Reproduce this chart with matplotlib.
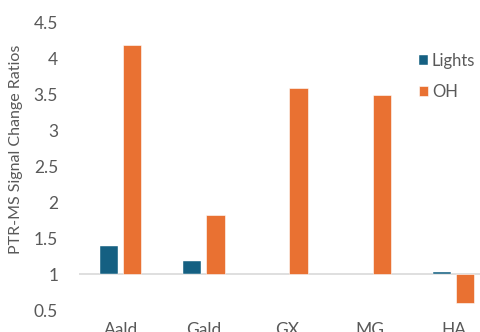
import numpy as np
import matplotlib.pyplot as plt

plt.rcParams['font.family'] = ['Lato', 'DejaVu Sans']

categories = ['Aald', 'Gald', 'GX', 'MG', 'HA']
lights = [1.40, 1.19, np.nan, np.nan, 1.03]
oh = [4.19, 1.83, 3.59, 3.49, 0.60]
base = 1.0

blue = '#156082'
orange = '#E97132'
grey_text = '#595959'

fig = plt.figure(figsize=(4.8, 3.32), dpi=100)
# plot area runs a little past the right edge of the figure
ax = fig.add_axes([79 / 480, 0.065, 416 / 480, 0.867])

x = np.arange(len(categories))
w = 0.22
gap = 0.06
lv = np.array(lights) - base
ov = np.array(oh) - base
b1 = ax.bar(x - (w + gap) / 2, lv, w, bottom=base, color=blue,
            edgecolor='white', linewidth=0.3, label='Lights')
b2 = ax.bar(x + (w + gap) / 2, ov, w, bottom=base, color=orange,
            edgecolor='white', linewidth=0.4, label='OH')

ax.set_xlim(-0.5, len(categories) - 0.5)
ax.set_ylim(0.5, 4.5)
ax.set_yticks(np.arange(0.5, 4.51, 0.5))
ax.set_yticklabels(['0.5', '1', '1.5', '2', '2.5', '3', '3.5', '4', '4.5'])
ax.axhline(base, color='#d9d9d9', linewidth=1.2, zorder=0.5)

for s in ax.spines.values():
    s.set_visible(False)
ax.tick_params(axis='y', length=0, pad=15, labelsize=12.5, labelcolor=grey_text)
ax.tick_params(axis='x', length=0, pad=8, labelsize=12.5, labelcolor=grey_text)
ax.set_xticks(x)
ax.set_xticklabels(categories)

ax.set_ylabel('PTR-MS Signal Change Ratios', fontsize=11.5, color=grey_text)
ax.yaxis.set_label_coords(-0.135, 0.56)

ax.legend(handles=[b1, b2], loc='upper left', bbox_to_anchor=(416 / 480, 0.85),
          bbox_transform=fig.transFigure, frameon=False, fontsize=12,
          handlelength=0.5, handleheight=0.5, handletextpad=0.25,
          labelspacing=0.9, labelcolor=grey_text, borderaxespad=0, borderpad=0.2)

fig.savefig('out.png', dpi=100)
